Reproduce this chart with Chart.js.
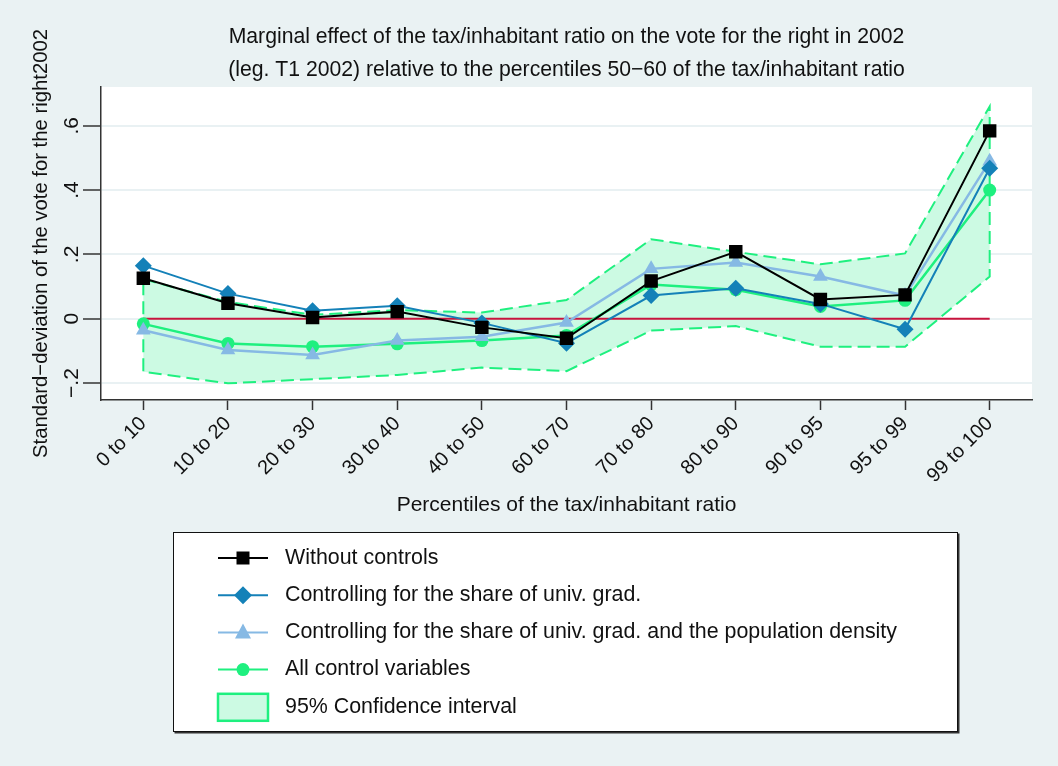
<!DOCTYPE html>
<html>
<head>
<meta charset="utf-8">
<title>Marginal effect of the tax/inhabitant ratio</title>
<script src="https://cdn.jsdelivr.net/npm/chart.js@4.4.1/dist/chart.umd.min.js"></script>
<style>
  html, body { margin: 0; padding: 0; background: #eaf2f3; }
  #wrap { width: 1058px; height: 766px; }
</style>
</head>
<body>
<div id="wrap"><canvas id="effectChart" width="1058" height="766"></canvas></div>
<script>
// Percentile groups of the tax/inhabitant ratio
const categories = ["0 to 10", "10 to 20", "20 to 30", "30 to 40", "40 to 50", "60 to 70",
  "70 to 80", "80 to 90", "90 to 95", "95 to 99", "99 to 100"];

// Estimated effects (reference group: percentiles 50-60)
const withoutControls = [0.126, 0.048, 0.004, 0.022, -0.027, -0.061, 0.117, 0.208, 0.060, 0.074, 0.584];
const univGrad = [0.165, 0.078, 0.025, 0.040, -0.013, -0.076, 0.072, 0.095, 0.046, -0.033, 0.468];
const univGradDensity = [-0.036, -0.097, -0.113, -0.068, -0.056, -0.012, 0.155, 0.175, 0.131, 0.072, 0.490];
const allControls = [-0.016, -0.077, -0.087, -0.078, -0.068, -0.052, 0.106, 0.090, 0.038, 0.057, 0.400];

// 95% confidence interval bounds
const ciUpper = [0.123, 0.052, 0.012, 0.027, 0.019, 0.058, 0.247, 0.208, 0.169, 0.203, 0.660];
const ciLower = [-0.165, -0.201, -0.188, -0.175, -0.152, -0.163, -0.037, -0.023, -0.087, -0.087, 0.131];

// y axis ticks
const yTicks = [-0.2, 0, 0.2, 0.4, 0.6];
const yTickLabels = ["\u2212.2", "0", ".2", ".4", ".6"];
const refLevel = 0;

const FONT = "'Liberation Sans', Arial, Helvetica, sans-serif";
const GREEN = "#1ef07f";
const CI_FILL = "#ccfae3";

// closed outline of the confidence band: upper bound left->right, lower bound right->left
const ciPolygon = categories.map((c, i) => ({ x: c, y: ciUpper[i] }))
  .concat(categories.map((c, i) => ({ x: c, y: ciLower[i] })).reverse())
  .concat([{ x: categories[0], y: ciUpper[0] }]);

const series = [
  { label: "Without controls", data: withoutControls, color: "#000000", marker: "rect", radius: 9.5, width: 2 },
  { label: "Controlling for the share of univ. grad.", data: univGrad, color: "#1481b8", marker: "rectRot", radius: 8.5, width: 2 },
  { label: "Controlling for the share of univ. grad. and the population density", data: univGradDensity, color: "#86b9e4", marker: "triangle", radius: 8.5, width: 2.5 },
  { label: "All control variables", data: allControls, color: GREEN, marker: "circle", radius: 6.5, width: 2.5 }
];

const datasets = series.map(s => ({
  label: s.label,
  data: s.data,
  borderColor: s.color,
  backgroundColor: s.color,
  borderWidth: s.width,
  pointStyle: s.marker,
  pointRadius: s.radius,
  pointBorderWidth: 0,
  tension: 0,
  fill: false
}));

// horizontal reference line at zero
datasets.push({
  label: "zero",
  data: [{ x: categories[0], y: refLevel }, { x: categories[categories.length - 1], y: refLevel }],
  borderColor: "#c8133d",
  borderWidth: 2,
  pointRadius: 0,
  fill: false
});

datasets.push({
  label: "95% Confidence interval",
  data: ciPolygon,
  borderColor: GREEN,
  backgroundColor: CI_FILL,
  borderWidth: 2,
  borderDash: [13, 6],
  pointRadius: 0,
  tension: 0,
  fill: "shape"
});

// white plot region on the grey-blue graph background
const plotBackground = {
  id: "plotBackground",
  beforeDraw(chart) {
    const { ctx, chartArea: a } = chart;
    ctx.save();
    ctx.fillStyle = "#ffffff";
    ctx.fillRect(a.left, a.top, a.right - a.left, a.bottom - a.top);
    ctx.restore();
  }
};

function drawMarker(ctx, style, x, y) {
  ctx.beginPath();
  if (style === "rect") {
    ctx.rect(x - 6.5, y - 6.5, 13, 13);
  } else if (style === "rectRot") {
    ctx.moveTo(x, y - 9); ctx.lineTo(x + 9, y); ctx.lineTo(x, y + 9); ctx.lineTo(x - 9, y);
    ctx.closePath();
  } else if (style === "triangle") {
    ctx.moveTo(x, y - 9); ctx.lineTo(x + 8, y + 6); ctx.lineTo(x - 8, y + 6);
    ctx.closePath();
  } else {
    ctx.arc(x, y, 6.5, 0, Math.PI * 2);
  }
  ctx.fill();
}

// boxed legend under the x axis title
const boxLegend = {
  id: "boxLegend",
  afterDraw(chart) {
    const { ctx } = chart;
    const left = 173, top = 532, w = 785, h = 200;
    ctx.save();
    ctx.fillStyle = "#333";
    ctx.fillRect(left + 1.5, top + 1.5, w, h);
    ctx.fillStyle = "#fff";
    ctx.fillRect(left, top, w, h);
    ctx.strokeStyle = "#111";
    ctx.lineWidth = 1;
    ctx.strokeRect(left + 0.5, top + 0.5, w - 1, h - 1);

    ctx.font = "21.4px " + FONT;
    ctx.textBaseline = "middle";
    ctx.textAlign = "left";
    let y = 558;
    series.forEach(s => {
      ctx.strokeStyle = s.color;
      ctx.lineWidth = 2;
      ctx.beginPath();
      ctx.moveTo(218, y);
      ctx.lineTo(268, y);
      ctx.stroke();
      ctx.fillStyle = s.color;
      drawMarker(ctx, s.marker, 243, y);
      ctx.fillStyle = "#111";
      ctx.fillText(s.label, 285, y);
      y += 37.2;
    });
    ctx.fillStyle = CI_FILL;
    ctx.fillRect(218, y - 13, 50, 27);
    ctx.strokeStyle = GREEN;
    ctx.lineWidth = 2.5;
    ctx.strokeRect(218, y - 13, 50, 27);
    ctx.fillStyle = "#111";
    ctx.fillText("95% Confidence interval", 285, y);
    ctx.restore();
  }
};

const ctx = document.getElementById("effectChart").getContext("2d");
new Chart(ctx, {
  type: "line",
  data: { labels: categories, datasets: datasets },
  options: {
    responsive: false,
    animation: false,
    devicePixelRatio: 1,
    layout: { padding: { left: 0, right: 26, top: 0, bottom: 246 } },
    plugins: {
      legend: { display: false },
      tooltip: { enabled: false },
      title: {
        display: true,
        fullSize: false,
        text: [
          "Marginal effect of the tax/inhabitant ratio on the vote for the right in 2002",
          "(leg. T1 2002) relative to the percentiles 50\u221260 of the tax/inhabitant ratio"
        ],
        color: "#111",
        font: { family: FONT, size: 21.2, weight: "normal", lineHeight: "33px" },
        padding: { top: 21, bottom: 0 }
      }
    },
    scales: {
      x: {
        type: "category",
        offset: true,
        afterFit(scale) { scale.height = 120; },
        grid: {
          drawOnChartArea: false,
          drawTicks: true,
          tickLength: 10,
          tickColor: "#333",
          tickWidth: 1.5
        },
        border: { display: true, color: "#333", width: 1.5 },
        ticks: {
          minRotation: 45,
          maxRotation: 45,
          autoSkip: false,
          padding: 2,
          color: "#111",
          font: { family: FONT, size: 20 }
        },
        title: {
          display: true,
          text: "Percentiles of the tax/inhabitant ratio",
          color: "#111",
          font: { family: FONT, size: 21 },
          padding: { top: 0, bottom: 2.5 }
        }
      },
      y: {
        min: -0.2528,
        max: 0.7205,
        afterFit(scale) { scale.width = 101; },
        afterBuildTicks(scale) { scale.ticks = yTicks.map(v => ({ value: v })); },
        grid: {
          color: "#e9f1f3",
          lineWidth: 2,
          drawTicks: true,
          tickLength: 18,
          tickColor: "#333",
          tickWidth: 1.5
        },
        border: { display: true, color: "#333", width: 1.5 },
        ticks: {
          minRotation: 90,
          maxRotation: 90,
          crossAlign: "center",
          padding: -4,
          color: "#111",
          font: { family: FONT, size: 21 },
          callback: (value, index) => yTickLabels[index]
        },
        title: {
          display: true,
          text: "Standard\u2212deviation of the vote for the right2002",
          color: "#111",
          font: { family: FONT, size: 20.3 },
          padding: { top: 29.5, bottom: 0 }
        }
      }
    }
  },
  plugins: [plotBackground, boxLegend]
});
</script>
</body>
</html>
